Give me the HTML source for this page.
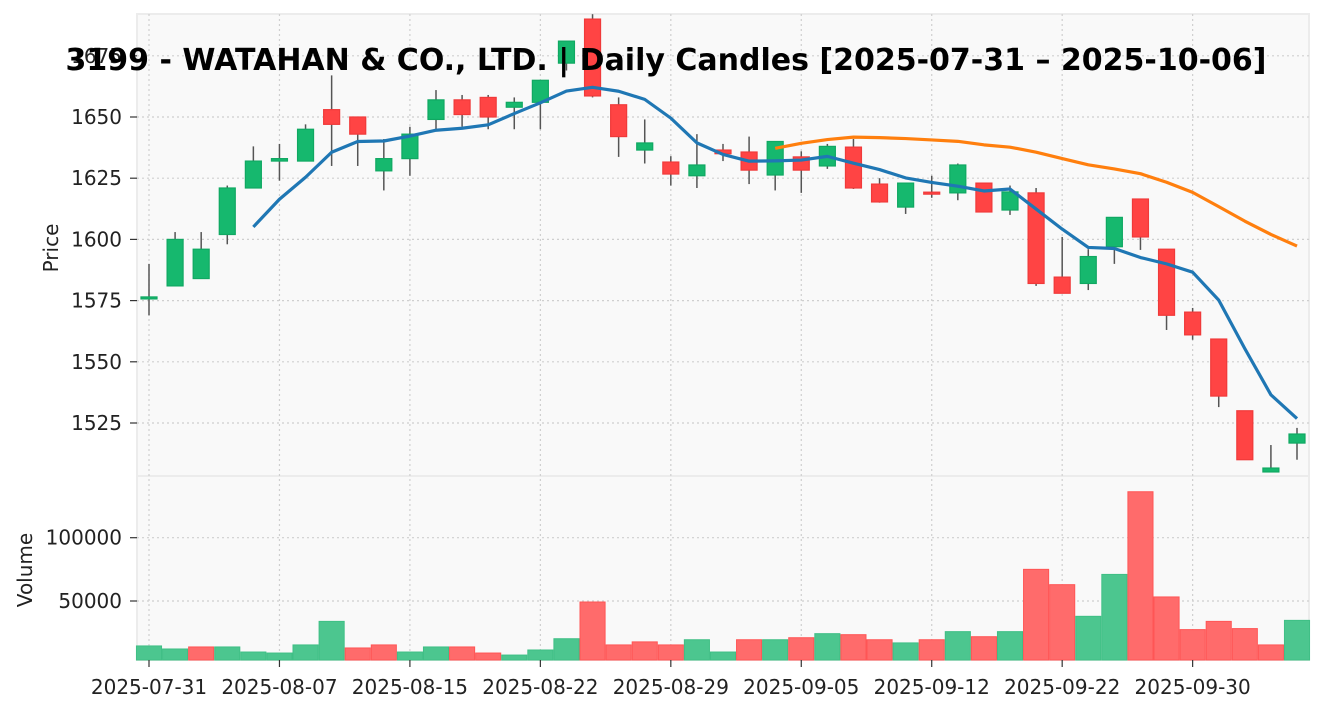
<!DOCTYPE html>
<html><head><meta charset="utf-8"><style>
html,body{margin:0;padding:0;background:#fff;}
svg{display:block;font-family:"DejaVu Sans","Liberation Sans",sans-serif;}
</style></head><body>
<svg id="chart" width="1324" height="711" viewBox="0 0 1324 711">
<rect x="137" y="14" width="1172" height="462" fill="#f9f9f9" stroke="#ececec" stroke-width="2"/>
<rect x="137" y="476" width="1172" height="184" fill="#f9f9f9" stroke="#ececec" stroke-width="2"/>
<g id="grid"></g>
<g id="vol"></g>
<g id="candles"></g>
<g id="lines"></g>
<g id="axes"></g>
<text x="58" y="248" transform="rotate(-90 58 248)" text-anchor="middle" font-size="20" fill="#222">Price</text>
<text x="32" y="570" transform="rotate(-90 32 570)" text-anchor="middle" font-size="20" fill="#222">Volume</text>
<text x="666" y="70" text-anchor="middle" font-size="30" font-weight="bold" fill="#000">3199 - WATAHAN &amp; CO., LTD. | Daily Candles [2025-07-31 – 2025-10-06]</text>
</svg>
<script>
const opens  = [1576,1581,1584,1602,1621,1632,1632,1653,1650,1628,1633,1649,1657,1658,1654,1656,1672,1690,1655,1636.5,1631.6,1626,1636.5,1635.7,1626.3,1633.7,1630,1637.7,1622.6,1613.2,1619.3,1619,1623,1612,1619,1584.6,1582,1597,1616.5,1596,1570.3,1559.3,1530,1505,1516.8];
const highs  = [1590,1603,1603,1622,1638,1639,1647,1667,1650,1641,1646,1661,1659,1659,1658,1665,1681,1692,1658,1649,1634,1643,1639,1642,1640,1636,1639,1641,1625,1623,1626,1631,1623,1622,1621,1601,1596,1609,1616.5,1596,1572,1559.3,1530,1516,1523];
const lows   = [1569,1581,1584,1598,1621,1624,1632,1630,1630,1620,1626,1645,1646,1645,1645,1645,1669,1658,1633.7,1631,1622,1621,1632,1622.6,1620,1619,1628.8,1620.6,1615,1610.4,1617,1616,1611,1610,1581,1578,1579.3,1590,1595.7,1563,1559,1531.5,1510,1505,1510];
const closes = [1576.5,1600,1596,1621,1632,1633,1645,1647,1643,1633,1643,1657,1651,1650,1656,1665,1681,1658.6,1642,1639.4,1626.7,1630.4,1635,1628.3,1640,1628.3,1638,1621,1615.3,1623,1619,1630.4,1611.2,1619.4,1582,1578,1593,1609,1601,1569,1561,1536,1510,1506.6,1520.5];
const volumes = [14500,12100,13700,13700,9700,8900,15300,33900,12900,15300,9700,13700,13700,8900,7300,11300,20200,49200,15300,17700,15300,19400,9700,19400,19400,21000,24200,23400,19400,16900,19400,25800,21800,25800,75000,62900,37900,71000,136300,53200,27400,33900,28200,15300,34700];
const xTickIdx = [0,5,10,15,20,25,30,35,40];
const xTickLabels = ["2025-07-31","2025-08-07","2025-08-15","2025-08-22","2025-08-29","2025-09-05","2025-09-12","2025-09-22","2025-09-30"];
const priceTicks = [1525,1550,1575,1600,1625,1650,1675];
const volTicks = [50000,100000];

const NS="http://www.w3.org/2000/svg";
function mk(tag,attrs,parent){const e=document.createElementNS(NS,tag);for(const k in attrs)e.setAttribute(k,attrs[k]);parent.appendChild(e);return e;}
const x0=149, step=(1297-149)/44;
const xs=i=>x0+i*step;
const yP=p=>117+(1650-p)*2.448;
const yV=v=>664.3-v*(63.3/50000);
const grid=document.getElementById('grid'),vol=document.getElementById('vol'),cg=document.getElementById('candles'),lg=document.getElementById('lines'),ax=document.getElementById('axes');

xTickIdx.forEach((idx,k)=>{
  const x=xs(idx);
  const g=mk('line',{x1:x,x2:x,y1:14,y2:660,stroke:'#cfcfcf','stroke-dasharray':'2,3','stroke-width':1.2},grid);
  
  
  mk('line',{x1:x,x2:x,y1:660,y2:667,stroke:'#333','stroke-width':1.2},ax);
  const t=mk('text',{x:x,y:694,'text-anchor':'middle','font-size':20,fill:'#222'},ax);
  t.textContent=xTickLabels[k];
  
  
});
priceTicks.forEach(p=>{
  const y=yP(p);
  const g=mk('line',{x1:137,x2:1309,y1:y,y2:y,stroke:'#cfcfcf','stroke-dasharray':'2,3','stroke-width':1.2},grid);
  
  
  mk('line',{x1:130,x2:137,y1:y,y2:y,stroke:'#333','stroke-width':1.2},ax);
  const t=mk('text',{x:122,y:y+7,'text-anchor':'end','font-size':20,fill:'#222'},ax);
  t.textContent=p;
  
  
});
volTicks.forEach(v=>{
  const y=yV(v);
  const g=mk('line',{x1:137,x2:1309,y1:y,y2:y,stroke:'#cfcfcf','stroke-dasharray':'2,3','stroke-width':1.2},grid);
  
  
  mk('line',{x1:130,x2:137,y1:y,y2:y,stroke:'#333','stroke-width':1.2},ax);
  const t=mk('text',{x:122,y:y+7,'text-anchor':'end','font-size':20,fill:'#222'},ax);
  t.textContent=v;
  
  
});

volumes.forEach((v,i)=>{
  const up = i===0 ? true : closes[i]>=closes[i-1];
  const top=yV(v);
  const r=mk('rect',{x:xs(i)-step/2+0.5,y:top,width:step-1,height:Math.max(0,660-top),fill:up?'#4cc68f':'#ff6b6b',stroke:up?'#3fbf85':'#ff5555','stroke-width':1},vol);
  
  
});

const clipTop=14;
opens.forEach((o,i)=>{
  const c=closes[i],up=c>=o,x=xs(i);
  const g=mk('g',{},cg);
  
  
  mk('line',{x1:x,x2:x,y1:Math.max(clipTop,yP(highs[i])),y2:yP(lows[i]),stroke:'#555','stroke-width':1.5},g);
  const t=Math.max(clipTop+4,yP(Math.max(o,c))),b=yP(Math.min(o,c));
  mk('rect',{x:x-8,y:t,width:16,height:Math.max(2,b-t),fill:up?'#16b86e':'#ff4444',stroke:up?'#10a862':'#f03a3a','stroke-width':1.2},g);
});

function ma(n){const out=[];for(let i=n-1;i<closes.length;i++){let s=0;for(let j=i-n+1;j<=i;j++)s+=closes[j];out.push([i,s/n]);}return out;}
function line(pts,color,name){
  const p=mk('polyline',{points:pts.map(([i,v])=>xs(i)+','+yP(v)).join(' '),fill:'none',stroke:color,'stroke-width':3.2,'stroke-linejoin':'round'},lg);
  
  
}
line(ma(5),'#1f77b4','ma5-line');
line(ma(25),'#ff7f0e','ma25-line');
</script>
</body></html>
